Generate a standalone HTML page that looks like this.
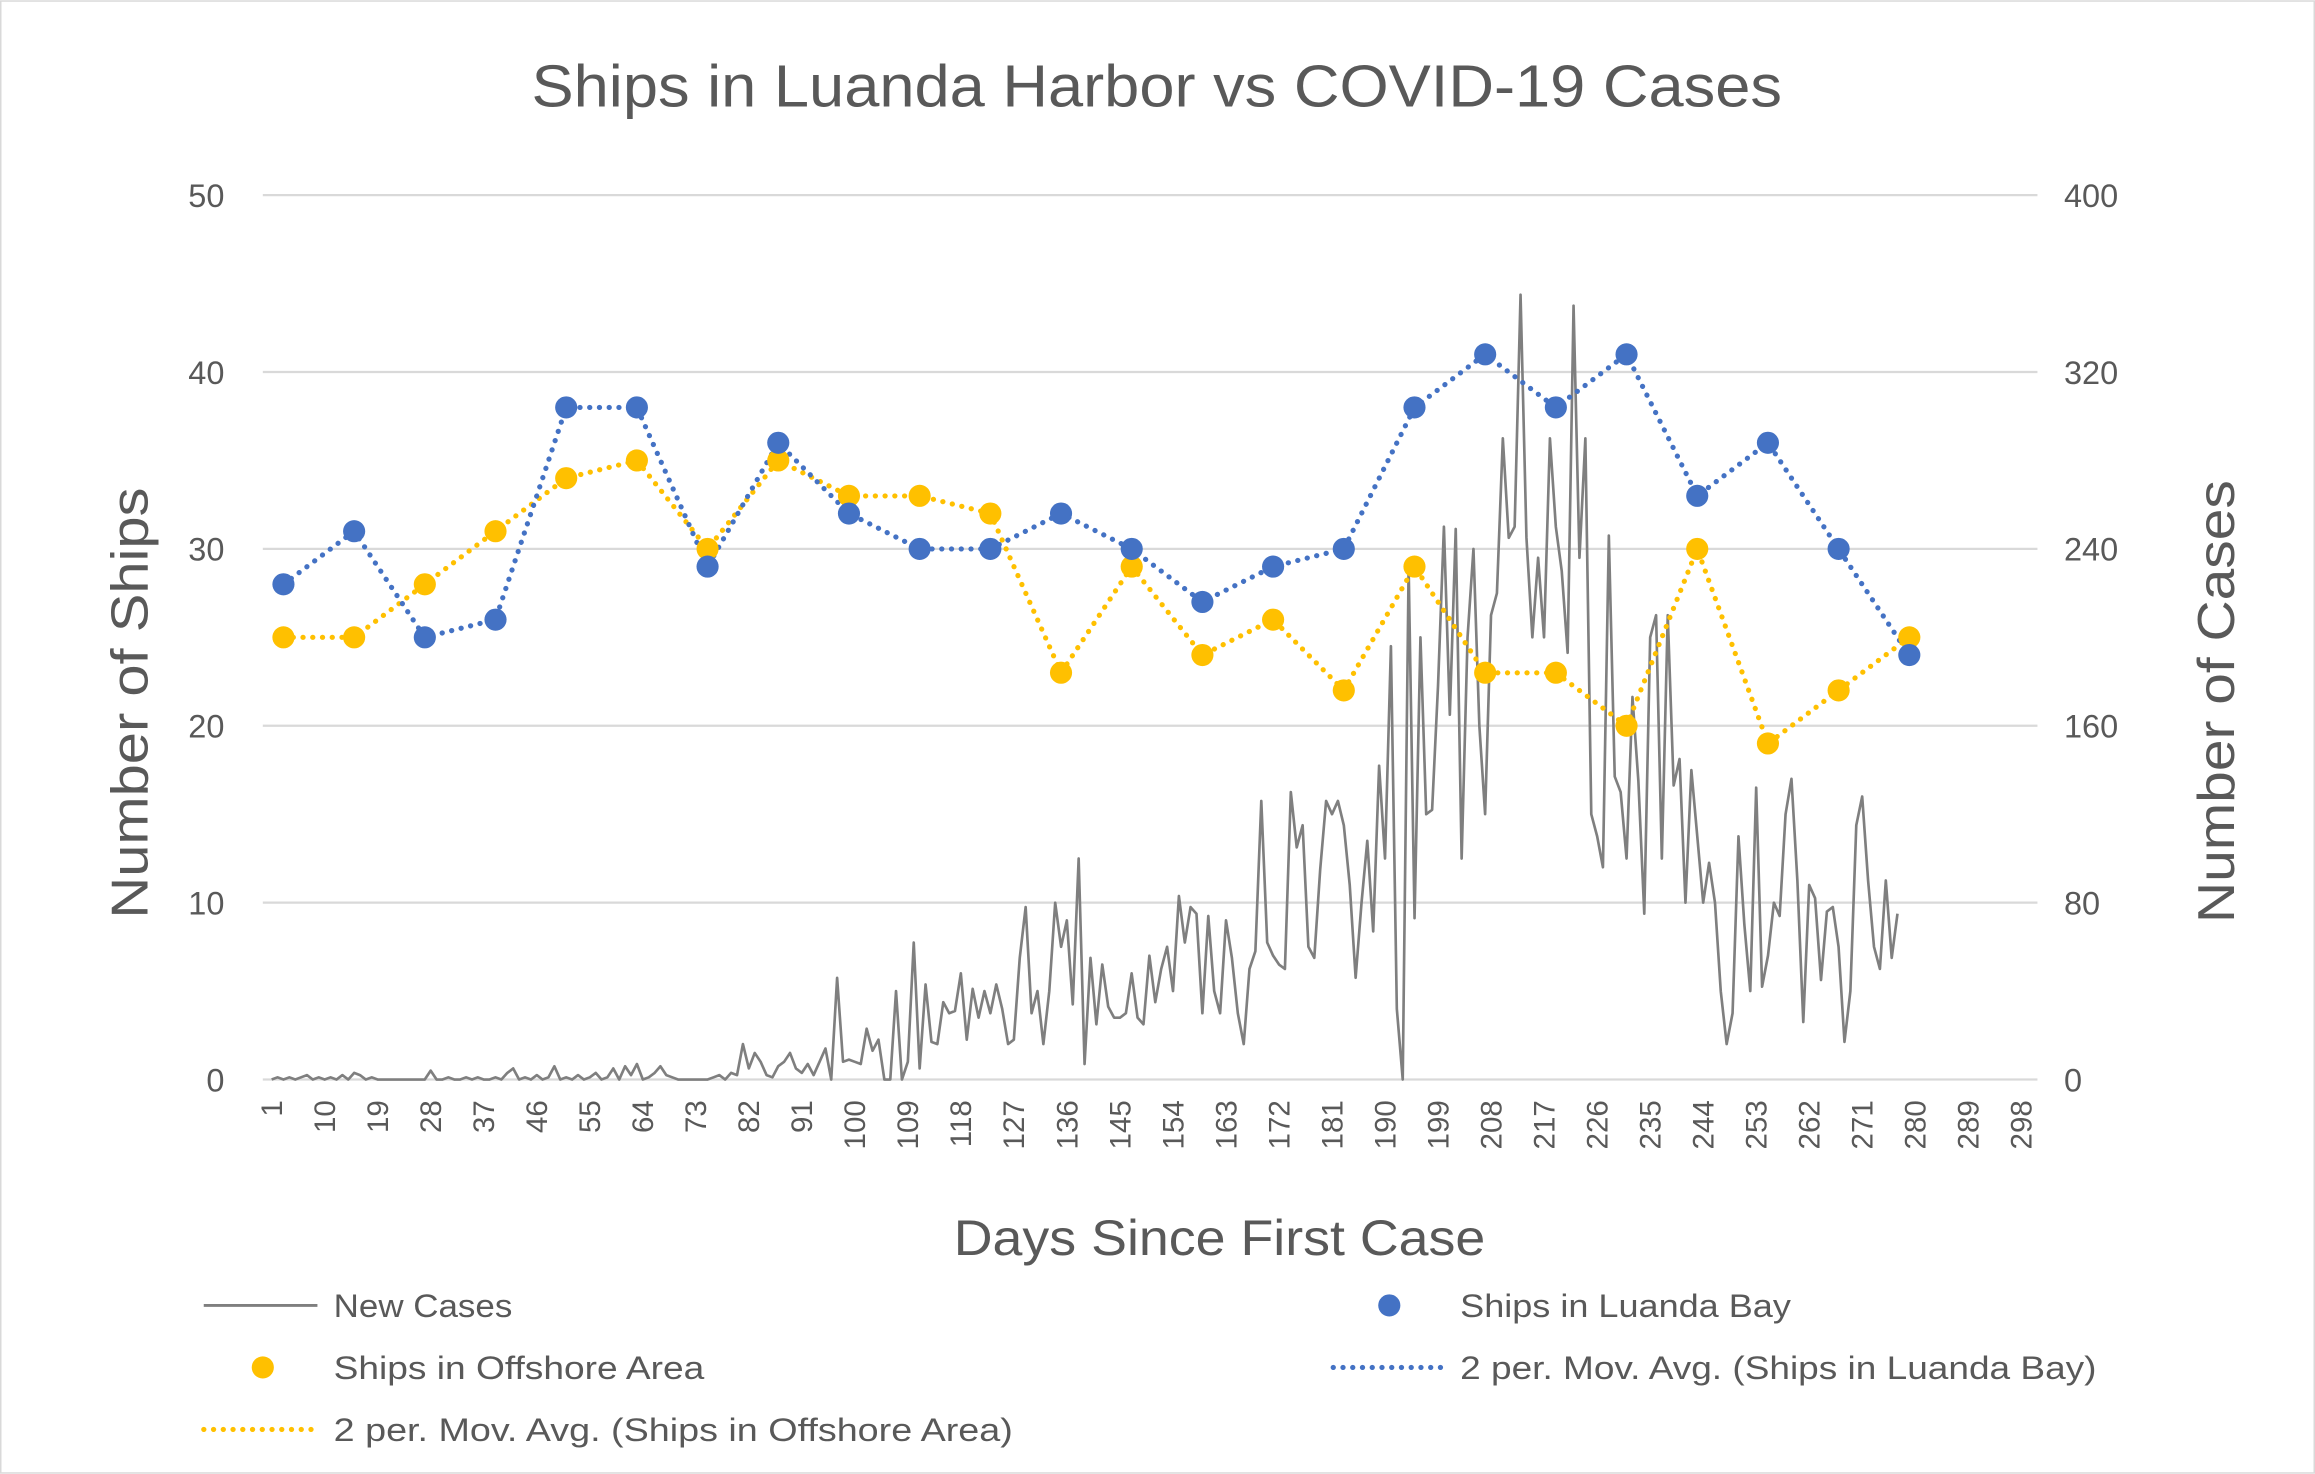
<!DOCTYPE html>
<html><head><meta charset="utf-8"><style>
html,body{margin:0;padding:0;background:#fff}
svg{display:block}
text{font-family:"Liberation Sans",sans-serif;fill:#595959}
</style></head><body>
<svg id="chart" width="2315" height="1474" viewBox="0 0 1568 998" xmlns="http://www.w3.org/2000/svg">
<rect x="0.5" y="0.5" width="1567" height="997" fill="#fff" stroke="#d9d9d9"/>
<text x="360" y="72" font-size="40" textLength="847" lengthAdjust="spacingAndGlyphs">Ships in Luanda Harbor vs COVID-19 Cases</text>
<g id="grid"></g>
<g id="yticks"></g>
<g id="xticks"></g>
<g id="series"></g>
<text transform="translate(100,622) rotate(-90)" font-size="35" textLength="292" lengthAdjust="spacingAndGlyphs">Number of Ships</text>
<text transform="translate(1513,625) rotate(-90)" font-size="35" textLength="300" lengthAdjust="spacingAndGlyphs">Number of Cases</text>
<text x="646" y="850" font-size="34" textLength="360" lengthAdjust="spacingAndGlyphs">Days Since First Case</text>
<g>
<g><line x1="138" y1="884" x2="215" y2="884" stroke="#7f7f7f" stroke-width="2"/><text x="226" y="892" font-size="22" textLength="121" lengthAdjust="spacingAndGlyphs">New Cases</text></g>
<g><circle cx="941" cy="884" r="7.5" fill="#4472c4"/><text x="989" y="892" font-size="22" textLength="224" lengthAdjust="spacingAndGlyphs">Ships in Luanda Bay</text></g>
<g><circle cx="178" cy="926" r="7.5" fill="#ffc000"/><text x="226" y="934" font-size="22" textLength="251" lengthAdjust="spacingAndGlyphs">Ships in Offshore Area</text></g>
<g><line x1="903" y1="926" x2="980" y2="926" stroke="#4472c4" stroke-width="3.5" stroke-dasharray="0.1 6.5" stroke-linecap="round"/><text x="989" y="934" font-size="22" textLength="431" lengthAdjust="spacingAndGlyphs">2 per. Mov. Avg. (Ships in Luanda Bay)</text></g>
<g><line x1="138" y1="968" x2="215" y2="968" stroke="#ffc000" stroke-width="3.5" stroke-dasharray="0.1 6.5" stroke-linecap="round"/><text x="226" y="976" font-size="22" textLength="460" lengthAdjust="spacingAndGlyphs">2 per. Mov. Avg. (Ships in Offshore Area)</text></g>
</g>
</svg>
<script>
const shipDays=[3,15,27,39,51,63,75,87,99,111,123,135,147,159,171,183,195,207,219,231,243,255,267,279];
const luandaBay=[28,31,25,26,38,38,29,36,32,30,30,32,30,27,29,30,38,41,38,41,33,36,30,24];
const offshore=[25,25,28,31,34,35,30,35,33,33,32,23,29,24,26,22,29,23,23,20,30,19,22,25];
const newCases=[0,1,0,1,0,1,2,0,1,0,1,0,2,0,3,2,0,1,0,0,0,0,0,0,0,0,0,4,0,0,1,0,0,1,0,1,0,0,1,0,
3,5,0,1,0,2,0,1,6,0,1,0,2,0,1,3,0,1,5,0,6,2,7,0,1,3,6,2,1,0,0,0,0,0,0,1,2,0,3,2,
16,5,12,8,2,1,6,8,12,5,3,7,2,8,14,0,46,8,9,8,7,23,13,18,0,0,40,0,8,62,5,43,17,16,35,30,31,48,18,41,
28,40,30,43,32,16,18,55,78,30,40,16,40,80,60,72,34,100,7,55,25,52,33,28,28,30,48,28,25,56,
35,50,60,40,83,62,78,75,30,74,40,30,72,55,30,16,50,58,126,62,56,52,50,130,105,115,60,55,95,126,
120,126,115,88,46,80,108,67,142,100,196,32,0,232,73,200,120,122,178,250,165,249,100,200,240,160,120,210,220,290,
245,250,355,245,200,236,200,290,250,230,193,350,236,290,120,110,96,246,137,130,100,173,135,75,200,210,100,210,133,145,
80,140,110,80,98,80,40,16,30,110,70,40,132,42,56,80,74,120,136,90,26,88,82,45,76,78,60,17,40,115,128,90,60,50,90,55,75];
const leftTicks=[0,10,20,30,40,50];
const rightTicks=[0,80,160,240,320,400];
const xTickLabels=[1,10,19,28,37,46,55,64,73,82,91,100,109,118,127,136,145,154,163,172,181,190,199,208,217,226,235,244,253,262,271,280,289,298];

const NS='http://www.w3.org/2000/svg';
const X=d=>184+(d-1)*3.99;
const YL=v=>731-v*11.98;
const YR=v=>731-v*1.4975;
function mk(tag,attrs,parent){const e=document.createElementNS(NS,tag);for(const k in attrs)e.setAttribute(k,attrs[k]);parent.appendChild(e);return e;}
const grid=document.getElementById('grid'),yt=document.getElementById('yticks'),xt=document.getElementById('xticks'),ser=document.getElementById('series');
leftTicks.forEach((t,i)=>{
  const y=YL(t);
  const g=mk('line',{x1:178,x2:1380,y1:y,y2:y,stroke:'#d9d9d9','stroke-width':1.5},grid);
  
  
  const tl=mk('text',{x:152,y:y+8,'font-size':22,'text-anchor':'end'},yt);tl.textContent=t;
  
  
  const r=rightTicks[i];
  const tr=mk('text',{x:1398,y:YR(r)+8,'font-size':22},yt);tr.textContent=r;
  
  
});
xTickLabels.forEach(d=>{
  const x=X(d);
  const t=mk('text',{transform:`translate(${x+7},745) rotate(-90)`,'font-size':20,'text-anchor':'end'},xt);t.textContent=d;
  
  
});
const cp=newCases.map((v,i)=>`${X(i+1).toFixed(1)},${YR(v).toFixed(1)}`).join(' ');
const cl=mk('polyline',{points:cp,fill:'none',stroke:'#7f7f7f','stroke-width':1.8,'stroke-linejoin':'round'},ser);


function dotted(vals,color,name){
  const p=vals.map((v,i)=>`${X(shipDays[i]).toFixed(1)},${YL(v).toFixed(1)}`).join(' ');
  const l=mk('polyline',{points:p,fill:'none',stroke:color,'stroke-width':3.5,'stroke-dasharray':'0.1 6.5','stroke-linecap':'round'},ser);
  
  
}
function pts(vals,color,name){
  vals.forEach((v,i)=>{
    const c=mk('circle',{cx:X(shipDays[i]),cy:YL(v),r:7.5,fill:color},ser);
    
    
  });
}
dotted(offshore,'#ffc000','mavg-offshore-line');
dotted(luandaBay,'#4472c4','mavg-luanda-line');
pts(offshore,'#ffc000','offshore-point');
pts(luandaBay,'#4472c4','luanda-bay-point');
</script>
</body></html>
